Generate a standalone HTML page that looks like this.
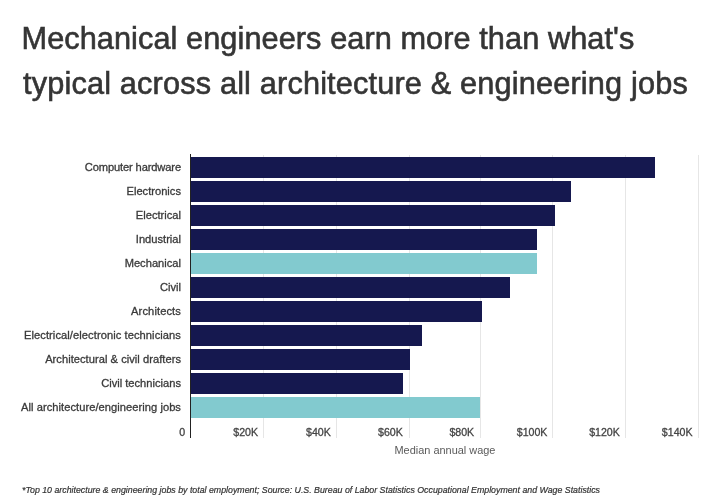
<!DOCTYPE html>
<html><head><meta charset="utf-8">
<style>
html,body{margin:0;padding:0;background:#fff;}
body{width:720px;height:501px;position:relative;overflow:hidden;font-family:"Liberation Sans",sans-serif;}
.t{position:absolute;left:22px;white-space:nowrap;color:#353535;font-size:30.7px;line-height:36px;-webkit-text-stroke:0.6px #353535;transform-origin:0 0;}
.lab{position:absolute;right:539px;white-space:nowrap;color:#3a3a3a;font-size:11.15px;line-height:21px;height:21px;text-align:right;-webkit-text-stroke:0.3px #3a3a3a;}
.bar{position:absolute;left:191px;height:20.5px;background:#15184f;}
.bar.h{background:#82cacf;}
.g{position:absolute;top:155px;height:283px;width:1px;background:#e6e6e6;}
.ax{position:absolute;left:189.5px;top:154px;width:1.3px;height:284px;background:#222;}
.tk{position:absolute;top:425px;white-space:nowrap;color:#444;font-size:10.6px;line-height:14px;text-align:right;width:60px;-webkit-text-stroke:0.3px #444;}
.xl{position:absolute;left:394.5px;top:442.5px;white-space:nowrap;color:#5a5a5a;font-size:10.95px;line-height:14px;}
.fn{position:absolute;left:22px;top:485px;white-space:nowrap;color:#333;font-size:8.8px;line-height:10px;font-style:italic;-webkit-text-stroke:0.2px #333;}
#w{position:absolute;left:0;top:0;width:720px;height:501px;filter:blur(0.45px);}
</style></head><body><div id="w">
<div class="t" id="t1" style="top:20.9px;left:21.5px;letter-spacing:0.075px">Mechanical engineers earn more than what's</div>
<div class="t" id="t2" style="top:66.2px;left:23px;letter-spacing:0.165px">typical across all architecture &amp; engineering jobs</div>

<div class="g" style="left:263px"></div>
<div class="g" style="left:336px"></div>
<div class="g" style="left:408.5px"></div>
<div class="g" style="left:480.3px"></div>
<div class="g" style="left:552.2px"></div>
<div class="g" style="left:625px"></div>
<div class="g" style="left:697.8px"></div>

<div class="bar" style="top:157px;width:463.8px"></div>
<div class="bar" style="top:181px;width:380px"></div>
<div class="bar" style="top:205px;width:364px"></div>
<div class="bar" style="top:229px;width:345.5px"></div>
<div class="bar h" style="top:253px;width:345.5px"></div>
<div class="bar" style="top:277px;width:319px"></div>
<div class="bar" style="top:301px;width:290.5px"></div>
<div class="bar" style="top:325px;width:231px"></div>
<div class="bar" style="top:349px;width:218.5px"></div>
<div class="bar" style="top:373px;width:211.5px"></div>
<div class="bar h" style="top:397px;width:289px"></div>
<div class="ax"></div>

<div class="lab" style="top:157px;letter-spacing:-0.13px">Computer hardware</div>
<div class="lab" style="top:181px">Electronics</div>
<div class="lab" style="top:205px">Electrical</div>
<div class="lab" style="top:229px">Industrial</div>
<div class="lab" style="top:253px">Mechanical</div>
<div class="lab" style="top:277px">Civil</div>
<div class="lab" style="top:301px;letter-spacing:0.1px">Architects</div>
<div class="lab" style="top:325px;letter-spacing:0.067px">Electrical/electronic technicians</div>
<div class="lab" style="top:349px;letter-spacing:0.03px">Architectural &amp; civil drafters</div>
<div class="lab" style="top:373px">Civil technicians</div>
<div class="lab" style="top:397px;letter-spacing:0.043px">All architecture/engineering jobs</div>

<div class="tk" style="left:125.1px">0</div>
<div class="tk" style="left:198.0px">$20K</div>
<div class="tk" style="left:270.8px">$40K</div>
<div class="tk" style="left:342.8px">$60K</div>
<div class="tk" style="left:414.2px">$80K</div>
<div class="tk" style="left:487.4px">$100K</div>
<div class="tk" style="left:559.8px">$120K</div>
<div class="tk" style="left:632.5px">$140K</div>

<div class="xl">Median annual wage</div>
<div class="fn">*Top 10 architecture &amp; engineering jobs by total employment; Source: U.S. Bureau of Labor Statistics Occupational Employment and Wage Statistics</div>
</div></body></html>
